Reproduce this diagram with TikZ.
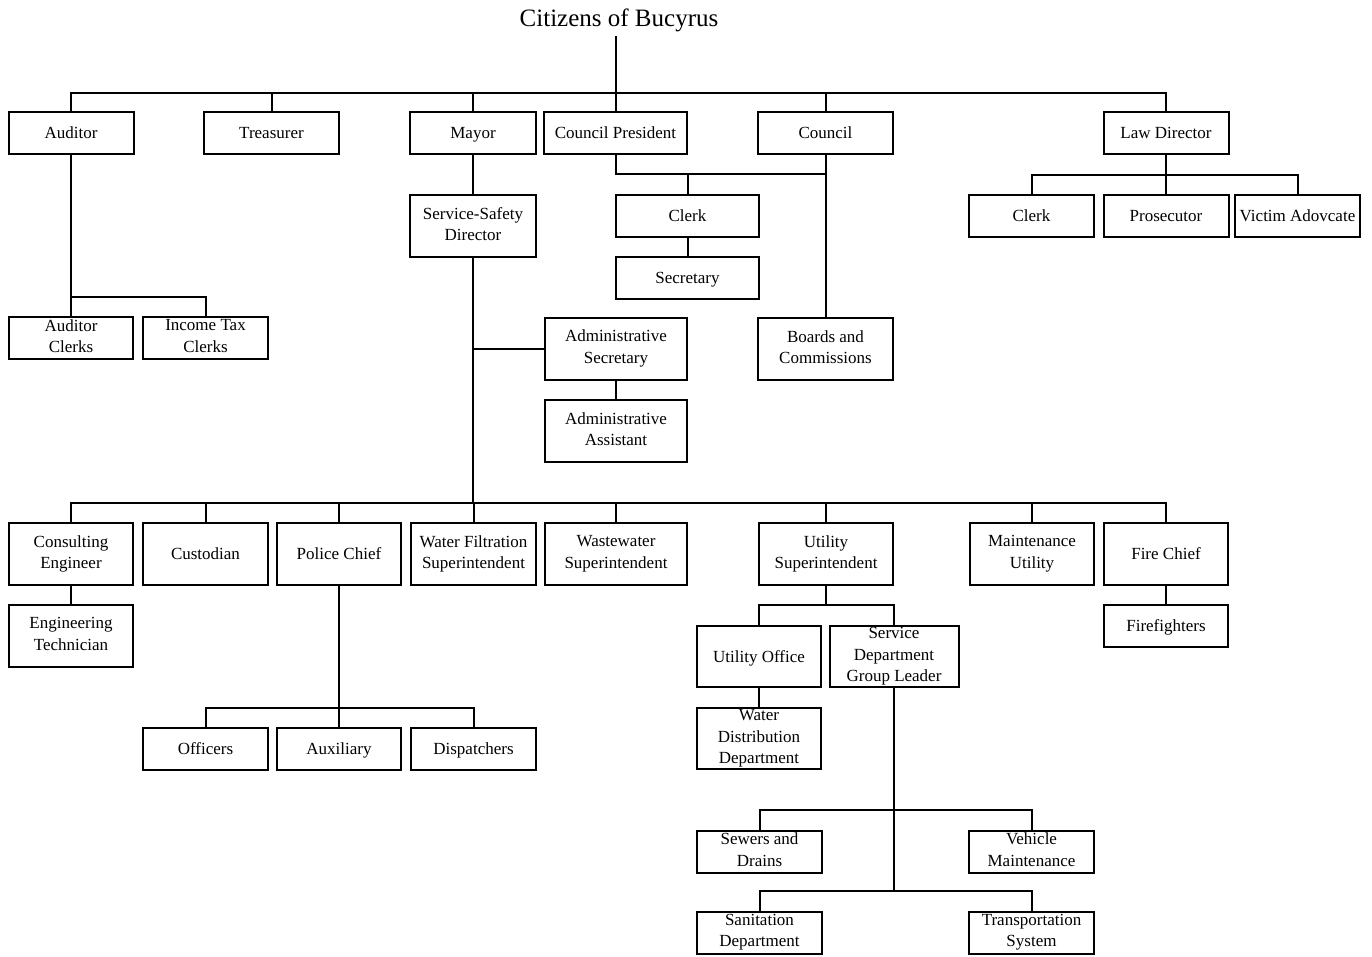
\documentclass[tikz,border=0pt]{standalone}
\usepackage{fontspec}
\setmainfont{Liberation Serif}
\newcommand{\boxstrut}{\rule[-4pt]{0pt}{19.5pt}}
\tikzset{
  box/.style={draw, line width=2pt, inner sep=0pt, align=center,
    minimum width=#1pt, minimum height=42pt, font=\fontsize{17}{21.5}\selectfont,
    execute at begin node=\boxstrut, execute at end node=\boxstrut},
  tall/.style={minimum height=62pt},
  link/.style={line width=2pt}
}
\begin{document}
\begin{tikzpicture}[x=1pt,y=-1pt]
  \useasboundingbox (0,0) rectangle (1372,956);

  \node[inner sep=4pt, font=\fontsize{25}{28}\selectfont] (citizens) at (619,20) {Citizens of Bucyrus};

  \node[box=125] (auditor) at (71,133) {Auditor};
  \node[box=135] (treasurer) at (271.5,133) {Treasurer};
  \node[box=126] (mayor) at (473,133) {Mayor};
  \node[box=143] (cpres) at (615.5,133) {Council President};
  \node[box=135] (council) at (825.5,133) {Council};
  \node[box=125] (lawdir) at (1166,133) {Law Director};

  \node[box=126, tall] (ssd) at (473,226) {Service-Safety\\Director};
  \node[box=143] (clerk) at (687.5,215.5) {Clerk};
  \node[box=143] (secretary) at (687.5,277.5) {Secretary};
  \node[box=125] (lclerk) at (1031.5,215.5) {Clerk};
  \node[box=125] (prosecutor) at (1166,215.5) {Prosecutor};
  \node[box=125] (victim) at (1297.5,215.5) {Victim Adovcate};

  \node[box=124] (audclerks) at (71,338) {Auditor\\Clerks};
  \node[box=125] (taxclerks) at (205.5,338) {Income Tax\\Clerks};
  \node[box=142, tall] (adminsec) at (616,348.5) {Administrative\\Secretary};
  \node[box=142, tall] (adminasst) at (616,431) {Administrative\\Assistant};
  \node[box=135, tall] (boards) at (825.5,349) {Boards and\\Commissions};

  \node[box=124, tall] (conseng) at (71,554) {Consulting\\Engineer};
  \node[box=125, tall] (custodian) at (205.5,554) {Custodian};
  \node[box=124, tall] (police) at (339,554) {Police Chief};
  \node[box=125, tall] (waterfilt) at (473.5,554) {Water Filtration\\Superintendent};
  \node[box=142, tall] (wastewater) at (616,554) {Wastewater\\Superintendent};
  \node[box=134, tall] (utilsup) at (826,554) {Utility\\Superintendent};
  \node[box=124, tall] (maint) at (1032,554) {Maintenance\\Utility};
  \node[box=124, tall] (firechief) at (1166,554) {Fire Chief};

  \node[box=124, tall] (engtech) at (71,636) {Engineering\\Technician};
  \node[box=124] (firefighters) at (1166,625.5) {Firefighters};
  \node[box=125] (officers) at (205.5,748.5) {Officers};
  \node[box=124] (auxiliary) at (339,748.5) {Auxiliary};
  \node[box=125] (dispatchers) at (473.5,748.5) {Dispatchers};

  \node[box=124, minimum height=61pt] (utiloffice) at (759,656.5) {Utility Office};
  \node[box=129, minimum height=61pt] (servlead) at (894,656.5) {Service\\Department\\Group Leader};
  \node[box=124, minimum height=61pt] (waterdist) at (759,738.5) {Water\\Distribution\\Department};
  \node[box=125] (sewers) at (759.5,851.5) {Sewers and\\Drains};
  \node[box=125] (vehicle) at (1031.5,851.5) {Vehicle\\Maintenance};
  \node[box=125] (sanitation) at (759.5,932.5) {Sanitation\\Department};
  \node[box=125] (transport) at (1031.5,932.5) {Transportation\\System};

  \coordinate (topbar) at (616,93);
  \coordinate (cpbar) at (700,174);
  \coordinate (lawbar) at (1166,175);
  \coordinate (audbar) at (71,297);
  \coordinate (lowbar) at (473,503);
  \coordinate (polbar) at (339,708);
  \coordinate (utilbar) at (826,605);
  \coordinate (svcbar) at (893,810);
  \coordinate (svcbarb) at (893,891);

  \draw[link] (cpres.north |- citizens.south) -- (cpres.north);
  \draw[link] (auditor.north) -- (auditor.north |- topbar) -- (lawdir.north |- topbar) -- (lawdir.north);
  \draw[link] (treasurer.north) -- (treasurer.north |- topbar);
  \draw[link] (mayor.north) -- (mayor.north |- topbar);
  \draw[link] (council.north) -- (council.north |- topbar);

  \draw[link] (cpres.south) -- (cpres.south |- cpbar) -- (council.south |- cpbar);
  \draw[link] (council.south) -- (boards.north);
  \draw[link] (clerk.north) -- (clerk.north |- cpbar);
  \draw[link] (clerk.south) -- (secretary.north);

  \draw[link] (lawdir.south) -- (prosecutor.north);
  \draw[link] (lclerk.north) -- (lclerk.north |- lawbar) -- (victim.north |- lawbar) -- (victim.north);

  \draw[link] (auditor.south) -- (audclerks.north);
  \draw[link] (auditor.south |- audbar) -- (taxclerks.north |- audbar) -- (taxclerks.north);

  \draw[link] (mayor.south) -- (ssd.north);
  \draw[link] (ssd.south) -- (lowbar);
  \draw[link] (adminsec.west) -- (adminsec.west -| ssd.south);
  \draw[link] (adminsec.south) -- (adminasst.north);

  \draw[link] (conseng.north) -- (conseng.north |- lowbar) -- (firechief.north |- lowbar) -- (firechief.north);
  \draw[link] (custodian.north) -- (custodian.north |- lowbar);
  \draw[link] (police.north) -- (police.north |- lowbar);
  \draw[link] (waterfilt.north) -- (waterfilt.north |- lowbar);
  \draw[link] (wastewater.north) -- (wastewater.north |- lowbar);
  \draw[link] (utilsup.north) -- (utilsup.north |- lowbar);
  \draw[link] (maint.north) -- (maint.north |- lowbar);

  \draw[link] (conseng.south) -- (engtech.north);
  \draw[link] (firechief.south) -- (firefighters.north);

  \draw[link] (police.south) -- (auxiliary.north);
  \draw[link] (officers.north) -- (officers.north |- polbar) -- (dispatchers.north |- polbar) -- (dispatchers.north);

  \draw[link] (utilsup.south) -- (utilsup.south |- utilbar);
  \draw[link] (utiloffice.north) -- (utiloffice.north |- utilbar) -- (servlead.north |- utilbar) -- (servlead.north);
  \draw[link] (utiloffice.south) -- (waterdist.north);

  \draw[link] (servlead.south) -- (servlead.south |- svcbarb);
  \draw[link] (sewers.north) -- (sewers.north |- svcbar) -- (vehicle.north |- svcbar) -- (vehicle.north);
  \draw[link] (sanitation.north) -- (sanitation.north |- svcbarb) -- (transport.north |- svcbarb) -- (transport.north);
\end{tikzpicture}
\end{document}
